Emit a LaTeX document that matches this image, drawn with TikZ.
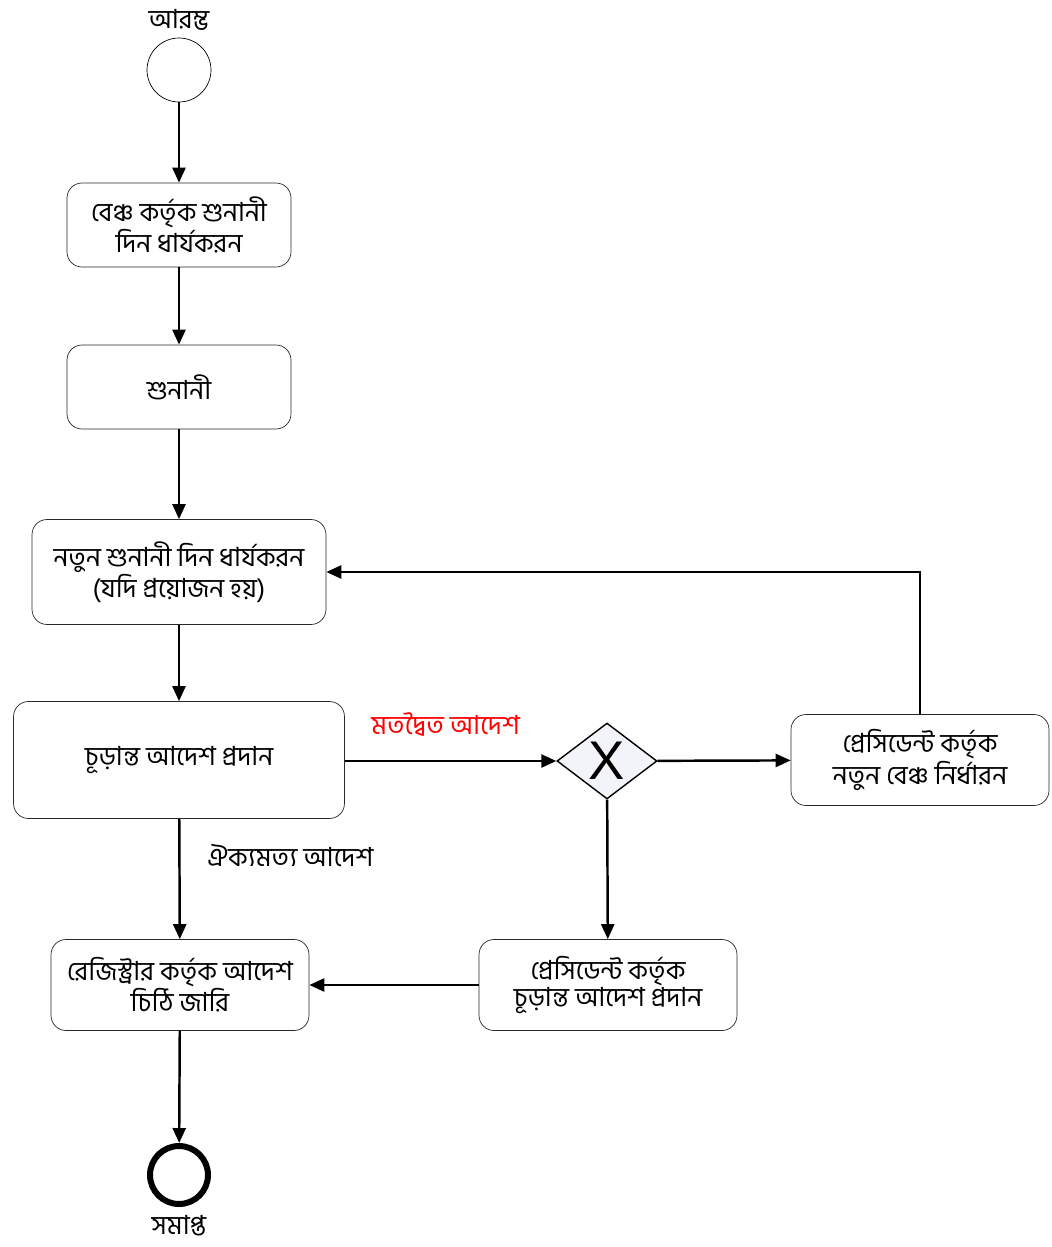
\documentclass[tikz,border=0pt]{standalone}
\usepackage{fontspec}
\setmainfont[Script=Bengali]{Hind Siliguri}
\newfontfamily\xfont{Liberation Sans}
\usepackage{tikz}
\usetikzlibrary{shapes.geometric,arrows.meta,positioning}
\definecolor{myboxline}{RGB}{40,40,40}
\definecolor{mydiamond}{RGB}{243,244,250}
\definecolor{myred}{RGB}{255,0,0}

\begin{document}
\begin{tikzpicture}[
  x=0.02cm, y=-0.02cm,
  font=\fontsize{15}{15.6}\selectfont,
  myrect/.style={
    draw=myboxline,
    thin,
    rectangle,
    rounded corners=0.3cm,
    align=center,
    inner sep=0pt
    },
  mygate/.style={
    draw=black,
    thick,
    diamond,
    fill=mydiamond,
    minimum width=2cm,
    minimum height=1.52cm,
    inner sep=0pt,
    font=\xfont\fontsize{31}{31}\selectfont
    },
  myflow/.style={
    -{Triangle[length=0.3cm,width=0.26cm]},
    line width=1.4pt
    }
]
\useasboundingbox (0,0) rectangle (1051,1247);

% start and end events
\node [draw, circle, thin, minimum size=1.28cm, inner sep=0pt] (start) at (179,70) {};
\node [above=0.02cm of start] (startlbl) {আরম্ভ};
\node [draw, circle, line width=0.12cm, minimum size=1.16cm, inner sep=0pt] (finish) at (179,1175) {};
\node [below=0.04cm of finish] (finishlbl) {সমাপ্ত};

% activities
\node [myrect, minimum width=4.48cm, minimum height=1.68cm] (hearingdate) at (179,225)
  {বেঞ্চ কর্তৃক শুনানী\\দিন ধার্যকরন};
\node [myrect, minimum width=4.48cm, minimum height=1.68cm] (hearing) at (179,387)
  {শুনানী};
\node [myrect, minimum width=5.88cm, minimum height=2.1cm] (newdate) at (179,572)
  {নতুন শুনানী দিন ধার্যকরন\\(যদি প্রয়োজন হয়)};
\node [myrect, minimum width=6.62cm, minimum height=2.34cm] (order) at (179,760)
  {চূড়ান্ত আদেশ প্রদান};
\node [mygate] (gate) at (607,761) {X};
\node [myrect, minimum width=5.16cm, minimum height=1.82cm] (newbench) at (920,760)
  {প্রেসিডেন্ট কর্তৃক\\নতুন বেঞ্চ নির্ধারন};
\node [myrect, minimum width=5.16cm, minimum height=1.82cm] (registrar) at (180,985)
  {রেজিস্ট্রার কর্তৃক আদেশ\\চিঠি জারি};
\node [myrect, minimum width=5.16cm, minimum height=1.82cm] (presorder) at (608,985)
  {প্রেসিডেন্ট কর্তৃক\\চূড়ান্ত আদেশ প্রদান};

% flows
\draw [myflow] (start) -- (hearingdate);
\draw [myflow] (hearingdate) -- (hearing);
\draw [myflow] (hearing) -- (newdate);
\draw [myflow] (newdate) -- (order);
\draw [myflow] (order) -- node [right=0.42cm, pos=0.3] (unanimous) {ঐক্যমত্য আদেশ} (registrar);
\draw [myflow] (order.east |- gate) -- node [above=0.36cm, xshift=-0.1cm, text=myred] (split) {মতদ্বৈত আদেশ} (gate);
\draw [myflow] (gate) -- (newbench);
\draw [myflow] (newbench.north) |- (newdate.east);
\draw [myflow] (gate) -- (presorder);
\draw [myflow] (presorder) -- (registrar);
\draw [myflow] (registrar) -- (finish);

\end{tikzpicture}
\end{document}
